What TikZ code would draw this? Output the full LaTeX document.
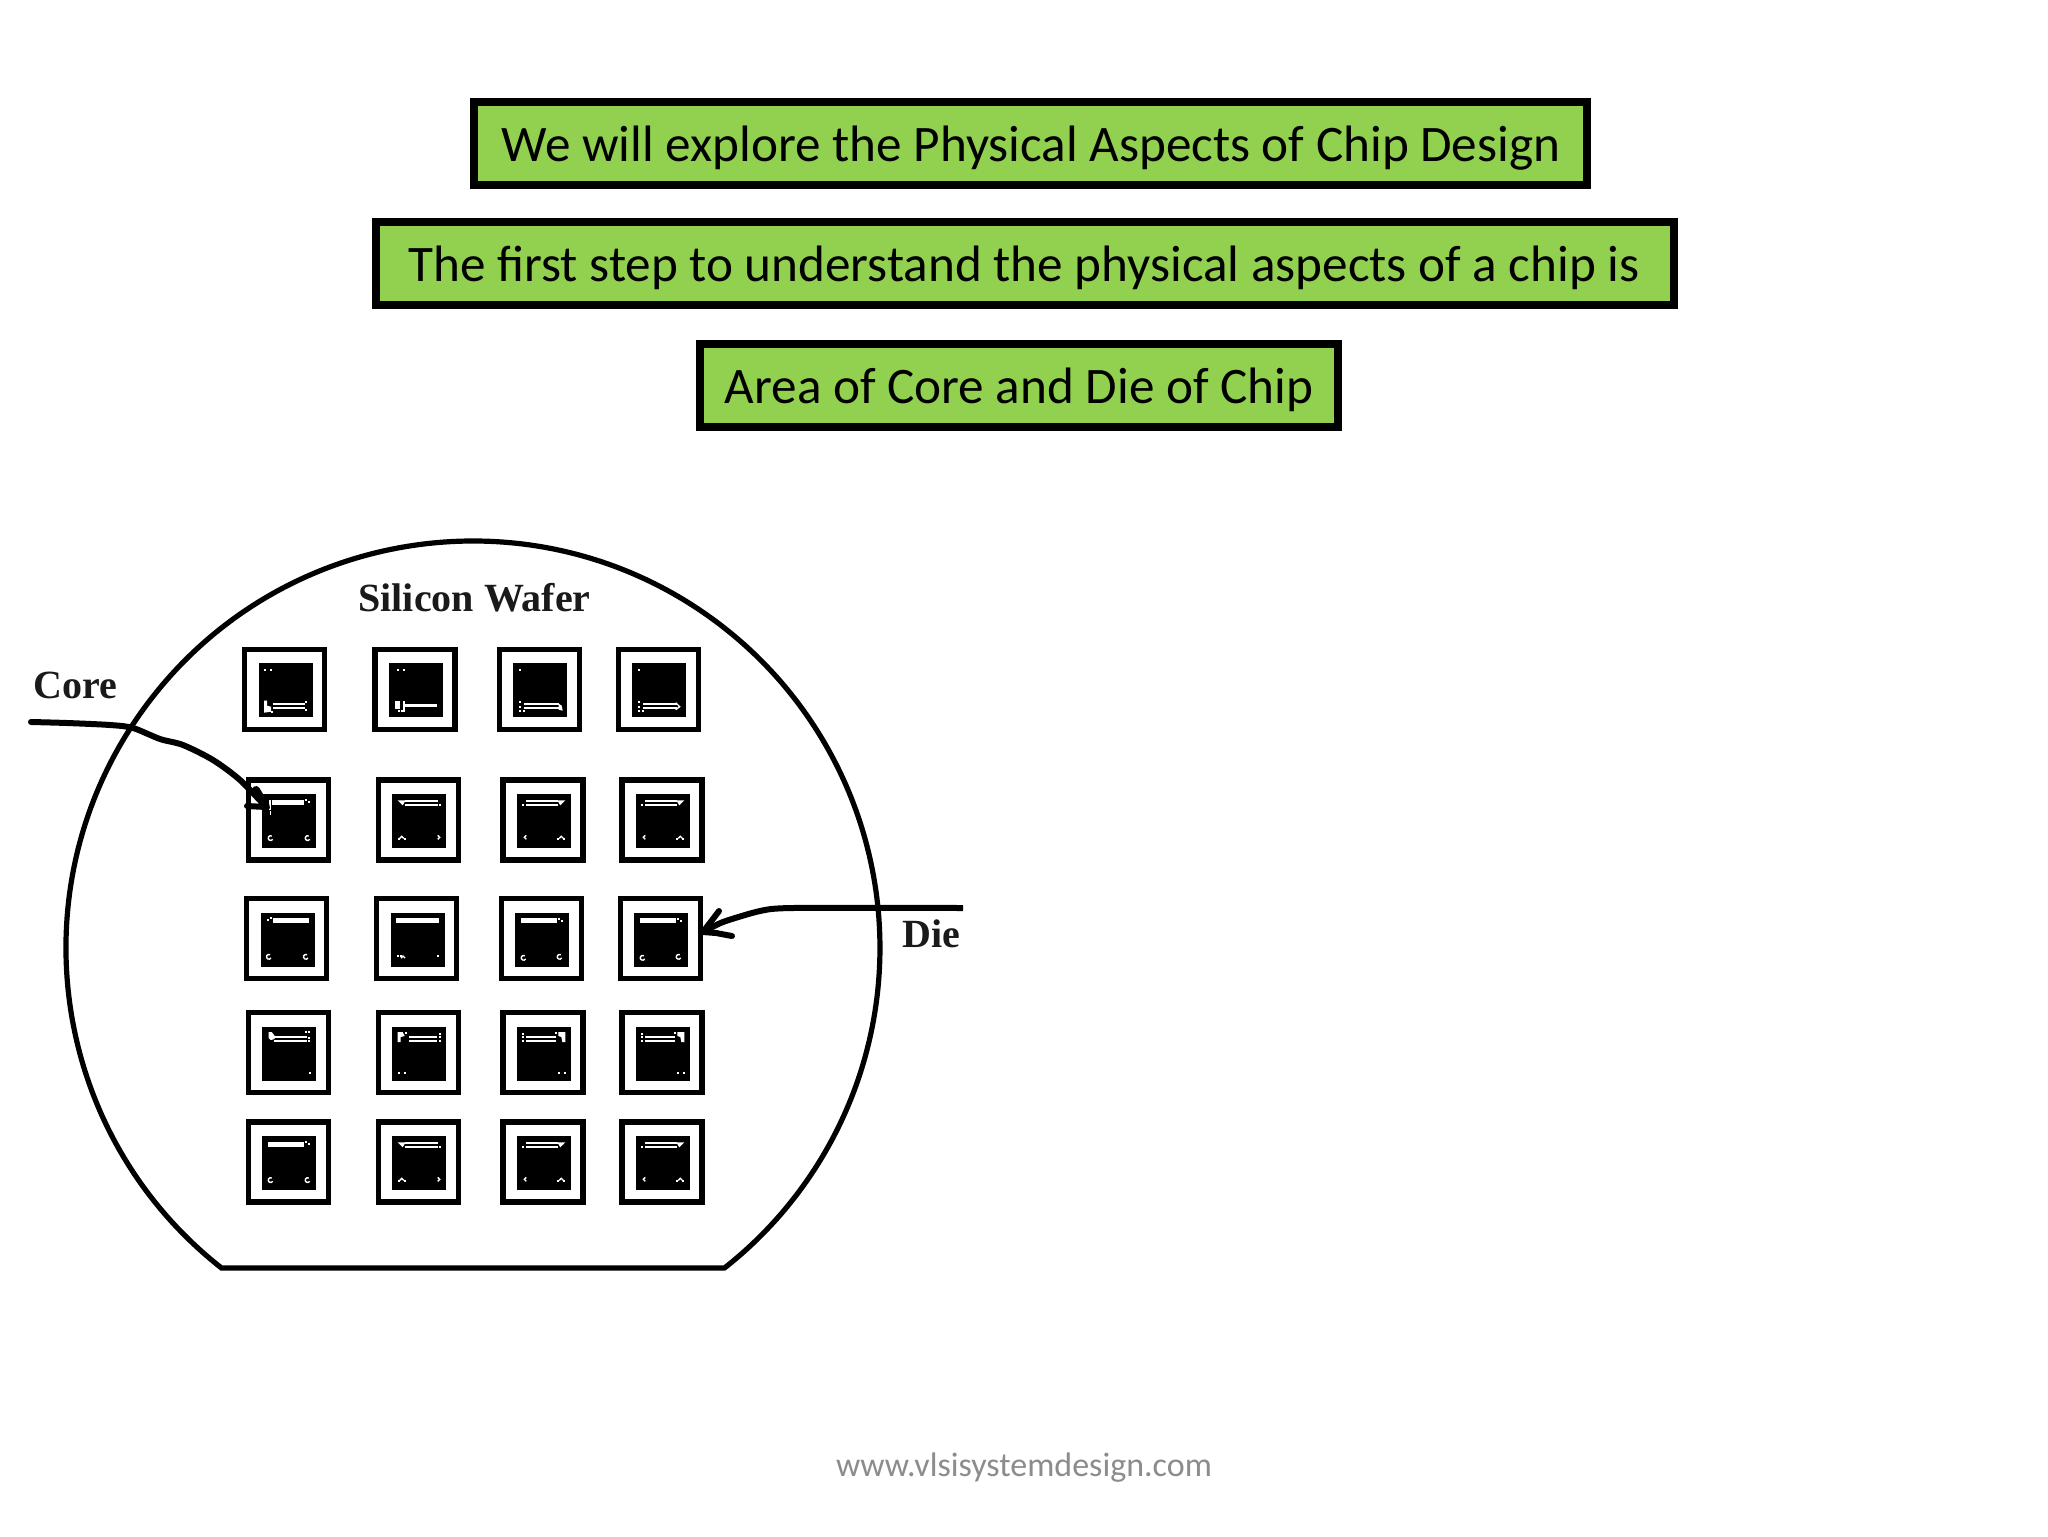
\documentclass[tikz,border=0pt]{standalone}
\usepackage{fontspec}
\setmainfont{Carlito}
\newfontfamily\serifbold{Liberation Serif}
\definecolor{boxgreen}{HTML}{92D050}
\definecolor{foot}{HTML}{8C8C8C}
\definecolor{ink}{HTML}{1A1A1A}
\tikzset{
 x=0.5pt,y=-0.5pt,
 banner/.style={draw=black,line width=4pt,fill=boxgreen,inner sep=0pt},
 bannertext/.style={font=\fontsize{25.6}{30}\selectfont,text=black,inner sep=0pt,anchor=base},
 footertext/.style={font=\fontsize{17}{20}\selectfont,text=foot,inner sep=0pt,anchor=base},
 waferline/.style={draw=black,line width=2.6pt},
 pointer/.style={draw=black,line width=3pt,line cap=round,line join=round},
 waferlabel/.style={font=\serifbold\bfseries\fontsize{20}{22}\selectfont,text=ink,inner sep=0pt,anchor=base west},
 dieout/.style={draw=black,line width=2.65pt,fill=white,minimum size=40pt,inner sep=0pt,outer sep=0pt},
 ringmark/.style={draw=white,line width=0.7pt}
}
\newcommand{\placedie}[4]{%
 \node[dieout] (#1) at (#2+42.65,#3+42.65) {};
 \begin{scope}[shift={(#2,#3)}]
  \fill[black] (16.7,16.7) rectangle (70.7,70.7);
  #4
 \end{scope}}
\newcommand{\dt}[2]{\fill[white] (#1-1.1,#2-1.1) rectangle (#1+1.1,#2+1.1);}
\newcommand{\dbar}[3]{\fill[white] (#1,#2) rectangle (#3,#2+1.8);\fill[white] (#1,#2+4) rectangle (#3,#2+5.8);}
\newcommand{\tbar}[4]{\fill[white] (#1,#2) rectangle (#3,#4);}
\newcommand{\rng}[2]{\draw[ringmark] (#1+2,#2+1) arc[start angle=30,end angle=300,radius=2.4];}
\newcommand{\crn}[2]{\draw[ringmark] (#1-2,#2+2) -- (#1,#2) -- (#1+2,#2+2);}
% mark sets
\newcommand{\markringbar}{\rng{25}{61}\rng{62}{61}\dt{60}{23}\dt{63}{25}}
\newcommand{\markwedgeL}{\tbar{29}{23}{62}{24.6}\tbar{29}{27}{62}{28.6}\fill[white] (22,23)--(30,23)--(27,28)--cycle;\dt{64}{27.5}\crn{26}{59}\dt{23}{62}\dt{29}{62}\draw[ringmark] (62,58)--(64,60)--(62,62);}
\newcommand{\markwedgeR}{\tbar{26}{23}{58}{24.6}\tbar{26}{27}{58}{28.6}\fill[white] (57,23)--(65,23)--(60,28)--cycle;\dt{23}{27.5}\draw[ringmark] (26,58)--(24,60)--(26,62);\crn{61}{59}\dt{58}{62}\dt{64}{62}}
\newcommand{\markrowfourR}{\dbar{26}{26}{56}\fill[white] (58,22)--(65,22)--(65,32)--(62,32)--(61,27)--(58,26)--cycle;\dt{23}{24}\dt{23}{27}\dt{23}{31}\dt{56}{23}\dt{59}{63}\dt{65}{63}}
\begin{document}
\begin{tikzpicture}
\useasboundingbox (0,0) rectangle (2048,1536);
\fill[white] (0,0) rectangle (2048,1536);
% banners
\path[banner] (474,102) rectangle (1587,185);
\path[banner] (376,222) rectangle (1674,305);
\path[banner] (700,344) rectangle (1337.5,427);
\node[bannertext] (b1) at (1031,162) {We will explore the Physical Aspects of Chip Design};
\node[bannertext] (b2) at (1024,281) {The first step to understand the physical aspects of a chip is};
\node[bannertext] (b3) at (1019,403.5) {Area of Core and Die of Chip};
% wafer
\draw[waferline] (221.5,1268) arc[start angle=128.16,end angle=411.84,radius=407] -- cycle;
\node[waferlabel] (wl) at (358,611) {Silicon Wafer};
\node[waferlabel] (cl) at (33,698) {Core};
\node[waferlabel] (dl) at (902,947) {Die};
% dies
\placedie{d11}{242}{646.7}{\dt{23}{23}\dt{29}{23}\dbar{31}{56}{63}\fill[white] (22,54)--(25,54)--(25,59)--(29,60)--(29,65)--(22,66)--cycle;\dt{64}{55}\dt{64}{63}\dt{30}{65}}
\placedie{d12}{372.3}{646.7}{\dt{26}{23}\dt{32}{23}\tbar{33}{57}{65}{60}\tbar{23}{54}{28}{62}\tbar{31}{54}{33}{65}\dt{30}{64}\dt{27}{64}}
\placedie{d13}{496.7}{646.7}{\dt{23}{23}\dbar{27}{56}{62}\fill[white] (62,57)--(65,59)--(66,64)--(62,63)--cycle;\dt{23}{55}\dt{23}{60}\dt{23}{64}\dt{27}{64}}
\placedie{d14}{615.7}{646.7}{\dt{23}{23}\dbar{27}{56}{61}\draw[ringmark] (60,56)--(64,60)--(60,63);\dt{23}{55}\dt{23}{60}\dt{23}{64}\dt{27}{64}}
\placedie{d21}{245.7}{777.3}{\tbar{26}{23}{58}{28}\tbar{23}{23}{25}{33}\tbar{24}{34}{25.5}{38}\markringbar}
\placedie{d22}{375.7}{777.3}{\markwedgeL}
\placedie{d23}{500.3}{777.3}{\markwedgeR}
\placedie{d24}{619.3}{777.3}{\markwedgeR}
\placedie{d31}{244}{896}{\tbar{29}{22}{65}{27}\dt{24}{24}\dt{27}{22}\rng{25}{61}\rng{62}{61}}
\placedie{d32}{374}{896}{\tbar{22}{22}{65}{27}\dt{24}{60}\dt{27}{60}\crn{29}{60}\dt{64}{60}}
\placedie{d33}{498.7}{896}{\tbar{22}{22}{58}{27}\dt{60}{23}\dt{63}{25}\rng{25}{62}\rng{61}{61}}
\placedie{d34}{617.7}{896}{\tbar{22}{22}{58}{27}\dt{60}{23}\dt{63}{25}\rng{25}{62}\rng{61}{61}}
\placedie{d41}{245.7}{1010}{\dbar{28}{26}{61}\fill[white] (23,22)--(26,22)--(29,26)--(29,29)--(25,30)--(23,28)--cycle;\dt{60}{22}\dt{63}{22}\dt{63}{28}\dt{63}{31}\dt{64}{63}}
\placedie{d42}{375.7}{1010}{\dbar{33}{26}{61}\fill[white] (22,22)--(27,22)--(29,26)--(25,27)--(25,32)--(22,32)--cycle;\dt{30}{23}\dt{64}{24}\dt{64}{27}\dt{64}{31}\dt{23}{63}\dt{29}{63}}
\placedie{d43}{500.3}{1010}{\markrowfourR}
\placedie{d44}{619.3}{1010}{\markrowfourR}
\placedie{d51}{245.7}{1119.3}{\tbar{22}{23}{58}{28}\markringbar}
\placedie{d52}{375.7}{1119.3}{\markwedgeL}
\placedie{d53}{500.3}{1119.3}{\markwedgeR}
\placedie{d54}{619.3}{1119.3}{\markwedgeR}
% pointers
\coordinate (corestart) at (31,722);
\coordinate (coretip) at (266,807);
\coordinate (diestart) at (963,908);
\coordinate (dietip) at (703,932);
\draw[pointer] plot[smooth,tension=0.5] coordinates {(corestart) (67,723) (110,725) (133,728) (160,739) (183,745) (213,760) (240,780) (coretip)};
\draw[pointer,line width=4pt] (256,790) -- (coretip);
\draw[pointer] (247,806) -- (coretip);
\draw[pointer,line cap=butt] plot[smooth,tension=0.4] coordinates {(diestart) (793,908) (760,911) (723,922) (dietip)};
\draw[pointer] (719,911) -- (dietip);
\draw[pointer] (732,936) -- (716,933) -- (dietip);
% footer
\node[footertext] (ft) at (1024,1476.5) {www.vlsisystemdesign.com};
\end{tikzpicture}
\end{document}
